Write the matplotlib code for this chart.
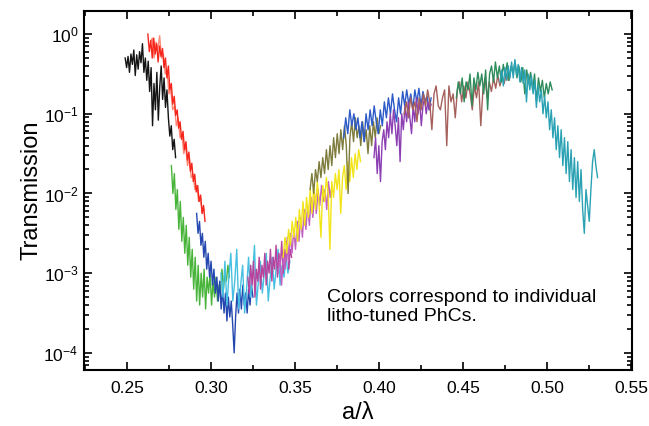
import numpy as np
import matplotlib.pyplot as plt
from matplotlib.ticker import LogLocator, MultipleLocator, NullFormatter, LogFormatterSciNotation

plt.rcParams['font.family'] = ['Liberation Sans', 'DejaVu Sans']
plt.rcParams['mathtext.default'] = 'regular'

# each spectrum: (a/lambda start, a/lambda end) and log10(transmission) samples
black_range = (0.249, 0.279)
black = [-0.30, -0.42, -0.28, -0.48, -0.25, -0.38, -0.20, -0.52, -0.26, -0.44, -0.22, -0.36,
         -0.12, -0.48, -0.30, -0.58, -0.34, -0.72, -0.42, -1.15, -0.62, -0.95, -0.48, -1.08,
         -0.66, -0.40, -0.82, -0.55, -0.92, -0.70, -1.05, -1.28, -1.15, -1.45, -1.32, -1.55]

red_range = (0.2625, 0.2965)
red = [0.00, -0.22, -0.08, -0.30, -0.05, -0.25, -0.12, -0.35, -0.15, -0.28, -0.18, -0.42,
       -0.30, -0.55, -0.40, -0.70, -0.62, -0.88, -0.78, -1.02, -0.95, -1.18, -1.10, -1.32,
       -1.22, -1.45, -1.35, -1.58, -1.48, -1.72, -1.62, -1.85, -1.76, -1.98, -1.90, -2.10,
       -2.02, -2.25, -2.15, -2.35]

salmon_range = (0.264, 0.296)
salmon = [-0.10, -0.05, -0.30, -0.10, -0.20, -0.02, -0.30, -0.25, -0.50, -0.45, -0.75, -0.70,
          -0.95, -0.90, -1.15, -1.05, -1.30, -1.25, -1.50, -1.40, -1.65, -1.55, -1.80, -1.75,
          -1.95, -1.90, -2.10, -2.05, -2.25, -2.20]

green_range = (0.2765, 0.311)
green = [-1.65, -2.00, -1.75, -2.20, -1.95, -2.45, -2.10, -2.60, -2.30, -2.75, -2.40, -2.90,
         -2.55, -3.05, -2.70, -3.20, -2.80, -3.35, -2.90, -3.40, -3.00, -3.30, -2.95, -3.45,
         -3.05, -3.25, -3.00, -3.40, -3.10, -3.30, -3.05, -3.35, -3.15, -3.25, -2.95, -3.20,
         -3.00, -3.10, -2.90, -3.05]

navy_range = (0.2915, 0.325)
navy = [-2.25, -2.50, -2.35, -2.65, -2.50, -2.80, -2.60, -2.95, -2.75, -3.05, -2.85, -3.15,
        -2.95, -3.25, -3.05, -3.35, -3.10, -3.45, -3.20, -3.50, -3.25, -3.60, -3.30, -3.55,
        -3.35, -3.65, -4.00, -3.55, -3.25, -3.50, -3.20, -3.45, -3.15, -3.40, -3.25, -3.50,
        -3.20, -3.40, -3.15, -3.30]

cyan_range = (0.306, 0.347)
cyan = [-3.00, -3.30, -2.85, -3.40, -3.05, -2.75, -3.35, -3.10, -2.70, -3.45, -3.15, -2.90,
        -3.50, -3.20, -2.80, -3.30, -3.05, -2.65, -3.40, -3.10, -2.85, -3.25, -3.00, -2.75,
        -3.35, -3.05, -2.80, -3.20, -2.95, -2.70, -3.15, -2.90, -3.05, -2.80, -3.00, -2.85]

magenta_range = (0.322, 0.348)
magenta = [-3.05, -3.25, -2.90, -3.15, -2.85, -3.30, -2.95, -3.10, -2.80, -3.20, -2.90, -3.05,
           -2.75, -3.15, -2.85, -3.00, -2.70, -3.10, -2.80, -2.95, -2.65, -3.05, -2.75, -2.90,
           -2.60, -3.00, -2.70, -2.85, -2.55, -2.95, -2.70, -2.80]

orchid_range = (0.340, 0.372)
orchid = [-3.00, -2.80, -3.15, -2.75, -2.95, -2.60, -2.85, -2.50, -2.75, -2.45, -2.70, -2.35,
          -2.60, -2.30, -2.55, -2.20, -2.45, -2.15, -2.40, -2.05, -2.30, -2.00, -2.25, -1.95,
          -2.15, -1.90, -2.10, -1.95, -2.20, -1.85, -2.05, -1.90]

yellow_range = (0.343, 0.389)
yellow = [-2.80, -2.55, -2.75, -2.45, -2.65, -2.35, -2.55, -2.30, -2.60, -2.20, -2.45, -2.10,
          -2.40, -2.05, -2.30, -1.95, -2.25, -1.90, -2.20, -1.85, -2.15, -2.55, -1.90, -2.10,
          -1.80, -2.00, -2.70, -1.85, -2.05, -1.75, -1.95, -1.70, -2.25, -1.80, -1.65, -1.95,
          -1.60, -1.85, -1.55, -1.80, -1.50, -1.70, -1.45, -1.60]

olive_range = (0.359, 0.401)
olive = [-1.95, -1.75, -2.00, -1.70, -1.85, -1.60, -1.80, -1.55, -1.75, -1.45, -1.70, -1.40,
         -1.65, -1.30, -1.55, -1.25, -1.50, -1.20, -1.45, -1.15, -1.40, -2.00, -1.30, -1.10,
         -1.35, -1.05, -1.30, -1.15, -1.40, -1.10, -1.35, -1.20, -1.50, -1.15, -1.40, -1.10,
         -1.30, -1.05, -1.25, -1.15]

blue_range = (0.379, 0.431)
blue = [-1.30, -1.05, -1.25, -0.95, -1.15, -1.00, -1.20, -1.05, -1.30, -1.10, -1.35, -1.00,
        -1.20, -0.95, -1.15, -0.90, -1.10, -1.25, -0.95, -1.15, -0.85, -1.05, -0.80, -1.00,
        -0.75, -0.95, -1.10, -0.80, -1.00, -0.72, -0.90, -0.70, -0.88, -0.75, -0.95, -0.70,
        -0.85, -0.68, -0.90, -0.72, -0.85, -0.78, -0.95, -0.80]

purple_range = (0.397, 0.431)
purple = [-1.55, -1.30, -1.75, -1.40, -1.85, -1.35, -1.20, -1.45, -1.10, -1.30, -1.00, -1.25,
          -0.95, -1.15, -1.40, -1.05, -1.60, -1.00, -1.20, -0.90, -1.10, -0.85, -1.05, -1.25,
          -0.90, -1.10, -0.80, -1.00, -0.85, -1.15, -0.90, -0.80, -1.00, -0.85, -0.95, -0.88]

brown_range = (0.415, 0.477)
brown = [-1.00, -0.85, -1.05, -0.80, -0.95, -0.85, -1.10, -0.80, -0.95, -0.75, -0.90, -0.70,
         -0.85, -1.20, -0.75, -0.65, -0.90, -0.95, -0.80, -0.70, -1.40, -0.65, -0.85, -0.75,
         -1.05, -0.70, -0.60, -0.85, -0.65, -0.80, -0.60, -0.75, -0.95, -0.65, -0.80, -0.60,
         -1.15, -0.70, -0.55, -0.80, -0.60, -0.72, -0.55, -0.68, -0.52, -0.65, -0.55, -0.62,
         -0.50, -0.58]

forest_range = (0.446, 0.503)
forest = [-0.80, -0.60, -0.75, -0.55, -0.85, -0.60, -0.70, -0.50, -0.90, -0.55, -0.70, -0.48,
          -0.65, -0.50, -0.75, -0.45, -0.95, -0.50, -0.40, -0.60, -0.35, -0.55, -0.40, -0.60,
          -0.38, -0.52, -0.36, -0.58, -0.40, -0.50, -0.34, -0.55, -0.40, -0.60, -0.42, -0.75,
          -0.45, -0.62, -0.48, -0.70, -0.50, -0.85, -0.55, -0.72, -0.58, -0.80, -0.62, -0.75,
          -0.60, -0.70]

teal_range = (0.472, 0.530)
teal = [-0.60, -0.45, -0.65, -0.42, -0.58, -0.40, -0.55, -0.35, -0.55, -0.32, -0.52, -0.38,
        -0.60, -0.42, -0.62, -0.45, -0.85, -0.50, -0.70, -0.52, -0.75, -0.58, -0.92, -0.65,
        -0.85, -0.70, -1.00, -0.78, -1.05, -0.85, -1.20, -0.95, -1.30, -1.05, -1.45, -1.15,
        -1.55, -1.20, -1.65, -1.30, -1.75, -1.35, -1.85, -1.45, -1.95, -1.55, -2.05, -1.60,
        -2.10, -1.70, -2.20, -2.50, -1.95, -2.15, -2.35, -1.95, -1.60, -1.45, -1.65, -1.80]

spectra = [
    (black_range, black, '#141414'),
    (salmon_range, salmon, '#ff8a78'),
    (red_range, red, '#f5261c'),
    (green_range, green, '#48b43a'),
    (navy_range, navy, '#2447b0'),
    (cyan_range, cyan, '#46c0e2'),
    (magenta_range, magenta, '#b8449e'),
    (orchid_range, orchid, '#c060c0'),
    (yellow_range, yellow, '#f2e41a'),
    (olive_range, olive, '#7e7c3c'),
    (blue_range, blue, '#2c5ac8'),
    (purple_range, purple, '#8c40b4'),
    (brown_range, brown, '#a5605c'),
    (forest_range, forest, '#2e8c5c'),
    (teal_range, teal, '#2aa2b4'),
]


def main():
    fig = plt.figure(figsize=(6.49, 4.26), dpi=100)
    ax = fig.add_axes([0.1294, 0.1315, 0.8444, 0.8427])

    for (x0, x1), logt, color in spectra:
        x = np.linspace(x0, x1, len(logt))
        ax.plot(x, 10 ** np.array(logt), color=color, lw=1.0)

    ax.set_yscale('log')
    ax.set_xlim(0.2245, 0.5505)
    ax.set_ylim(6.1e-5, 1.95)

    ax.xaxis.set_major_locator(MultipleLocator(0.05))
    ax.xaxis.set_minor_locator(MultipleLocator(0.025))
    ax.xaxis.set_major_formatter(plt.FuncFormatter(lambda v, p: f"{v:.2f}"))
    ax.yaxis.set_major_locator(LogLocator(base=10, numticks=10))
    ax.yaxis.set_major_formatter(LogFormatterSciNotation())
    ax.yaxis.set_minor_locator(LogLocator(base=10, subs=np.arange(2, 10), numticks=20))
    ax.yaxis.set_minor_formatter(NullFormatter())

    ax.tick_params(which='both', direction='in', top=True, right=True, width=1.2,
                   labelsize=12.5)
    ax.tick_params(axis='x', which='both', pad=8)
    ax.tick_params(axis='y', which='both', pad=4)
    ax.tick_params(which='major', length=6)
    ax.tick_params(which='minor', length=3.5)
    for s in ax.spines.values():
        s.set_linewidth(1.5)

    ax.set_xlabel("a/\u03bb", fontsize=17, labelpad=4)
    ax.set_ylabel("Transmission", fontsize=17, labelpad=1)

    ax.text(0.4434, 0.226, "Colors correspond to individual\nlitho-tuned PhCs.",
            transform=ax.transAxes, fontsize=14, va='top', ha='left')

    fig.savefig("out.png", dpi=100)


if __name__ == "__main__":
    main()
